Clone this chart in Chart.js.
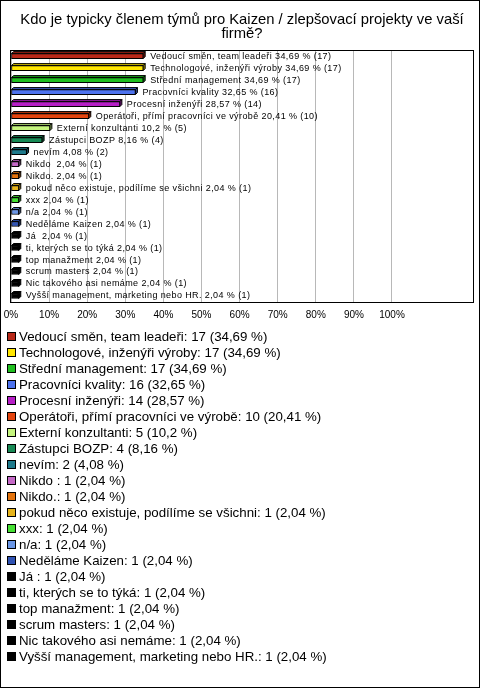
<!DOCTYPE html>
<html><head><meta charset="utf-8">
<script src="https://cdn.jsdelivr.net/npm/chart.js@4"></script>
<style>
html,body{margin:0;padding:0;background:#fff;}
#wrap{position:relative;width:480px;height:688px;overflow:hidden;font-family:"Liberation Sans",Arial,sans-serif;}
#frame{position:absolute;left:0;top:0;width:480px;height:688px;box-sizing:border-box;border:1px solid #000;pointer-events:none;}
#c{position:absolute;left:0;top:0;}
#legend{position:absolute;left:7px;top:328px;}
.li{height:16.05px;font-size:13.3px;white-space:nowrap;display:flex;align-items:center;color:#000;}
.sw{width:7px;height:7px;border:1px solid #000;margin-right:3px;flex:none;}
</style></head>
<body>
<div id="wrap">
<canvas id="c" width="480" height="330"></canvas>
<div id="legend"></div>
<div id="frame"></div>
</div>
<script>
const titleLines = ["Kdo je typicky členem týmů pro Kaizen / zlepšovací projekty ve vaší", "firmě?"];
const categories = ["Vedoucí směn, team leadeři","Technologové, inženýři výroby","Střední management","Pracovníci kvality","Procesní inženýři","Operátoři, přímí pracovníci ve výrobě","Externí konzultanti","Zástupci BOZP","nevím","Nikdo ","Nikdo.","pokud něco existuje, podílíme se všichni","xxx","n/a","Neděláme Kaizen","Já ","ti, kterých se to týká","top manažment","scrum masters","Nic takového asi nemáme","Vyšší management, marketing nebo HR."];
const counts = [17,17,17,16,14,10,5,4,2,1,1,1,1,1,1,1,1,1,1,1,1];
const percents = [34.69,34.69,34.69,32.65,28.57,20.41,10.2,8.16,4.08,2.04,2.04,2.04,2.04,2.04,2.04,2.04,2.04,2.04,2.04,2.04,2.04];
const colors = ["#b82818","#ffe600","#1fbf1f","#4d72ee","#b61ec6","#e4440e","#c5f57e","#178a55","#1e7a8c","#c468c6","#e4730d","#e6b41c","#45e033","#6a96e6","#2f52b3","#000000","#000000","#000000","#000000","#000000","#000000"];
const xTicks = [0,10,20,30,40,50,60,70,80,90,100];

const fmt = v => String(v).replace('.', ',');

function shade(hex, f){
  const n = parseInt(hex.slice(1),16);
  let r=(n>>16)&255,g=(n>>8)&255,b=n&255;
  r=Math.round(r*f);g=Math.round(g*f);b=Math.round(b*f);
  return `rgb(${Math.min(255,r)},${Math.min(255,g)},${Math.min(255,b)})`;
}

const depthPlugin = {
  id:'depth',
  beforeDatasetsDraw(chart){
    const ctx = chart.ctx, d = 2;
    chart.getDatasetMeta(0).data.forEach((el,i)=>{
      const p = el.getProps(['x','y','base','height'], true);
      const top = p.y - p.height/2, bot = p.y + p.height/2;
      ctx.save();
      ctx.lineWidth = 1; ctx.strokeStyle = '#000';
      ctx.fillStyle = shade(colors[i], 0.8);
      ctx.beginPath();
      ctx.moveTo(p.base, top); ctx.lineTo(p.base+d, top-d); ctx.lineTo(p.x+d, top-d); ctx.lineTo(p.x, top); ctx.closePath();
      ctx.fill(); ctx.stroke();
      ctx.fillStyle = shade(colors[i], 0.6);
      ctx.beginPath();
      ctx.moveTo(p.x, top); ctx.lineTo(p.x+d, top-d); ctx.lineTo(p.x+d, bot-d); ctx.lineTo(p.x, bot); ctx.closePath();
      ctx.fill(); ctx.stroke();
      ctx.restore();
    });
  },
  afterDatasetsDraw(chart){
    const ctx = chart.ctx;
    ctx.save();
    ctx.font = '9px "Liberation Sans", Arial, sans-serif';
    try { ctx.letterSpacing = '0.4px'; } catch(e) {}
    ctx.fillStyle = '#000'; ctx.textAlign = 'left'; ctx.textBaseline = 'middle';
    chart.getDatasetMeta(0).data.forEach((el,i)=>{
      const p = el.getProps(['x','y'], true);
      ctx.fillText(categories[i] + ' ' + fmt(percents[i]) + ' % (' + counts[i] + ')', p.x + 7, p.y);
    });
    try { ctx.letterSpacing = '0px'; } catch(e) {}
    const a = chart.chartArea;
    ctx.strokeStyle = '#000'; ctx.lineWidth = 1;
    ctx.strokeRect(Math.round(a.left)-0.5, Math.round(a.top)+0.5, Math.round(a.right-a.left)+1, Math.round(a.bottom-a.top));
    ctx.restore();
  }
};

new Chart(document.getElementById('c'), {
  type:'bar',
  data:{ labels: categories, datasets:[{ data: percents, backgroundColor: colors, borderColor:'#000', borderWidth:1, borderSkipped:false, barThickness:5 }] },
  options:{
    indexAxis:'y', responsive:false, animation:false, devicePixelRatio:1,
    layout:{ padding:{ left:11, right:7, top:0, bottom:2 } },
    plugins:{
      legend:{ display:false }, tooltip:{ enabled:false },
      title:{ display:true, text:titleLines, color:'#000', font:{ family:'"Liberation Sans", Arial, sans-serif', size:14.8, weight:'normal', lineHeight:0.95 }, padding:{ top:13, bottom:9 } }
    },
    scales:{
      x:{ type:'linear', min:0, max:121.26,
        afterBuildTicks(s){ s.ticks = xTicks.map(v=>({value:v})); },
        afterFit(s){ s.paddingLeft = 0; s.paddingRight = 0; },
        ticks:{ callback:v=>v+'%', color:'#000', font:{ family:'"Liberation Sans", Arial, sans-serif', size:10 }, padding:7, maxRotation:0, autoSkip:false },
        grid:{ color:'#b8b8b8', drawTicks:false }, border:{ display:false } },
      y:{ display:false }
    }
  },
  plugins:[depthPlugin]
});

const lg = document.getElementById('legend');
categories.forEach((c,i)=>{
  const row = document.createElement('div'); row.className='li';
  const sw = document.createElement('span'); sw.className='sw'; sw.style.background = colors[i];
  const t = document.createElement('span'); t.textContent = c + ': ' + counts[i] + ' (' + fmt(percents[i]) + ' %)';
  row.appendChild(sw); row.appendChild(t); lg.appendChild(row);
});
</script>
</body></html>
